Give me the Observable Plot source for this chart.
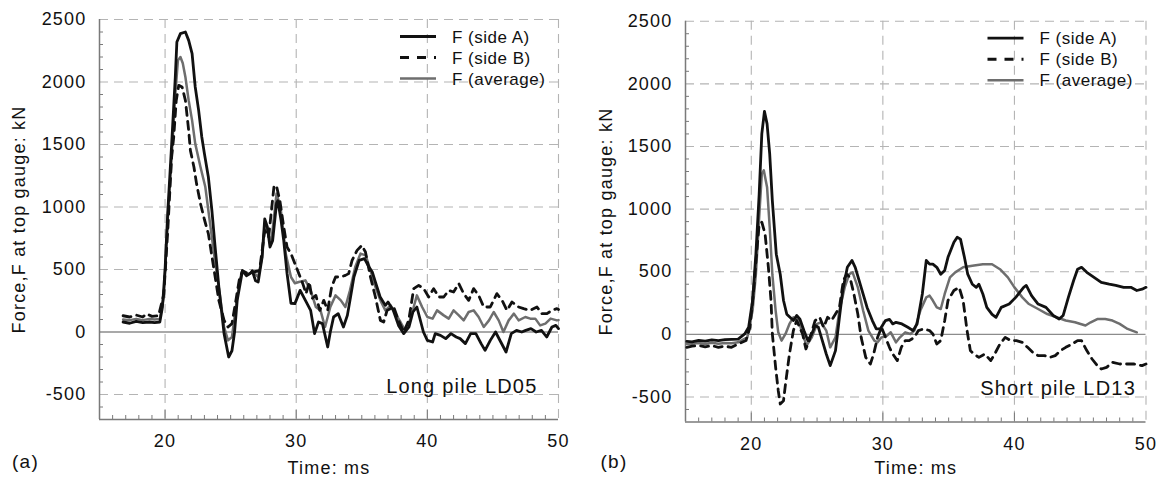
<!DOCTYPE html>
<html>
<head>
<meta charset="utf-8">
<script src="https://cdn.jsdelivr.net/npm/d3@7"></script>
<script src="https://cdn.jsdelivr.net/npm/@observablehq/plot@0.6"></script>
<style>
  body { margin: 0; background: #fff; }
  #wrap { position: relative; width: 1159px; height: 483px; overflow: hidden; }
  #left { position: absolute; left: 0; top: 0; }
  #right { position: absolute; left: 580px; top: 0; }
  #wrap text { letter-spacing: 1.2px; }
</style>
</head>
<body>
<div id="wrap"><div id="left"></div><div id="right"></div></div>
<script>
// ---------- axis / tick data ----------
const xDomain = [15, 50];
const yDomain = [-700, 2500];
const xMajor = [20, 30, 40, 50];
const xMinor = d3.range(16, 50, 1).filter(v => v % 10 !== 0);
const yGrid = [-500, 500, 1000, 1500, 2000, 2500];
const yLabels = [-500, 0, 500, 1000, 1500, 2000, 2500];
const yMinor = d3.range(-600, 2500, 100).filter(v => v % 500 !== 0);
const legendLabels = ["F (side A)", "F (side B)", "F (average)"];
const xTitle = "Time: ms";
const yTitle = "Force,F at top gauge: kN";

// ---------- (a) Long pile LD05 ----------
const leftA_t = [16.8,17.3,17.8,18.3,18.8,19.2,19.6,19.8,20.0,20.2,20.5,20.78,20.9,21.17,21.55,21.8,22.06,22.3,22.56,22.8,23.0,23.3,23.57,23.8,24.1,24.5,24.85,25.1,25.3,25.5,25.9,26.2,26.5,26.65,26.9,27.1,27.4,27.6,27.8,28.0,28.2,28.5,28.6,28.85,29.05,29.3,29.6,29.9,30.3,30.7,31.1,31.4,31.7,32.0,32.4,32.6,32.85,33.2,33.6,33.9,34.1,34.4,34.8,35.2,35.55,35.8,36.0,36.4,36.8,37.0,37.4,37.8,38.2,38.6,38.9,39.2,39.4,39.7,40.0,40.4,40.6,41.0,41.4,41.8,42.2,42.5,42.9,43.3,43.7,44.1,44.4,44.8,45.2,45.6,46.0,46.4,46.8,47.2,47.5,47.9,48.3,48.7,49.1,49.5,49.8,50.0];
const leftA_F = [80,70,85,75,80,75,80,200,500,950,1500,2040,2320,2387,2400,2333,2227,1960,1773,1560,1427,1240,973,700,360,-13,-200,-150,0,253,490,450,470,490,410,400,600,905,840,680,730,1030,1050,890,730,470,230,227,333,253,173,-13,80,67,-120,0,120,147,40,133,253,440,573,587,520,480,413,280,213,240,173,53,-13,40,160,200,120,0,-67,-80,-13,-27,-53,-13,-40,-53,-93,-13,-13,-93,-147,-67,0,-80,-160,-13,13,0,13,27,0,13,-40,40,53,27];

const leftB_t = [16.8,17.3,17.8,18.3,18.6,19.0,19.5,19.9,20.2,20.5,20.66,20.85,21.04,21.3,21.55,21.8,21.93,22.2,22.4,22.7,23.0,23.3,23.7,24.1,24.5,24.8,25.1,25.4,25.65,25.9,26.3,26.7,27.2,27.6,27.9,28.3,28.48,28.75,29.05,29.3,29.6,29.9,30.2,30.5,30.75,31.0,31.2,31.5,31.8,32.1,32.4,32.7,33.0,33.4,33.75,34.0,34.26,34.64,35.0,35.28,35.66,36.04,36.42,36.67,36.93,37.44,37.8,38.2,38.58,38.96,39.34,39.72,40.1,40.48,40.87,41.25,41.63,42.0,42.4,42.77,43.15,43.53,43.91,44.3,44.8,45.3,45.7,46.07,46.45,46.96,47.34,47.85,48.36,48.74,49.12,49.5,49.88,50.0];
const leftB_F = [130,120,135,120,145,125,130,300,800,1400,1560,1850,1973,1960,1853,1613,1453,1320,1187,1027,900,787,520,253,93,40,67,253,413,490,470,480,490,813,760,1160,1175,1053,840,680,627,547,467,387,307,400,267,293,173,253,173,360,440,440,453,467,573,653,693,640,440,280,93,80,173,200,93,0,93,347,373,347,280,347,280,280,333,320,387,307,253,347,293,200,200,307,253,173,240,200,187,173,200,147,147,173,187,180];

const leftM_t = [16.8,17.3,17.8,18.3,18.8,19.2,19.6,19.9,20.2,20.5,20.78,20.98,21.17,21.35,21.55,21.8,22.06,22.3,22.7,23.07,23.3,23.8,24.2,24.5,24.8,25.1,25.4,25.7,25.9,26.3,26.7,27.1,27.4,27.6,27.85,28.1,28.5,28.8,29.2,29.6,29.9,30.2,30.7,31.1,31.5,31.85,32.2,32.6,33.0,33.4,33.75,34.1,34.5,34.9,35.3,35.66,36.04,36.42,36.8,37.2,37.56,37.95,38.3,38.6,38.96,39.2,39.6,40.0,40.4,40.74,41.25,41.63,42.0,42.4,42.77,43.15,43.53,43.91,44.3,44.7,45.06,45.44,45.8,46.2,46.6,46.96,47.47,47.85,48.23,48.6,49.0,49.4,49.88,50.0];
const leftM_F = [100,95,105,95,105,100,105,280,900,1400,1900,2173,2200,2150,2040,1853,1693,1507,1320,1160,973,573,280,40,-67,-40,200,420,490,460,480,440,600,867,787,720,1107,1000,627,440,390,400,413,333,200,173,40,200,293,253,200,333,520,627,613,493,360,253,173,213,147,80,13,67,200,293,200,120,107,173,133,107,173,133,93,160,173,120,40,93,160,93,0,93,147,93,120,107,107,53,67,107,93,95];

// ---------- (b) Short pile LD13 ----------
const rightA_t = [15.1,15.5,16.0,16.5,17.0,17.5,18.0,18.5,19.0,19.5,19.8,20.1,20.35,20.6,20.8,21.0,21.2,21.4,21.6,21.9,22.2,22.45,22.7,23.2,23.45,23.7,24.0,24.3,24.6,24.85,25.1,25.4,25.7,26.0,26.4,26.7,26.95,27.3,27.65,27.9,28.35,28.8,29.2,29.5,29.8,30.2,30.5,30.75,31.0,31.45,31.9,32.3,32.6,33.0,33.3,33.55,33.8,34.1,34.4,34.7,34.95,35.4,35.65,35.9,36.2,36.45,36.8,37.1,37.3,37.6,37.9,38.3,38.6,39.0,39.6,40.1,40.7,40.9,41.3,41.8,42.4,42.95,43.4,43.7,44.1,44.5,44.8,45.1,45.5,46.05,46.6,47.2,47.7,48.3,48.85,49.3,49.7,50.0];
const rightA_F = [-56,-60,-48,-55,-45,-50,-42,-40,-38,3,56,270,640,1120,1600,1780,1680,1440,1067,640,480,270,160,110,150,120,30,-50,3,70,56,-50,-157,-250,-130,136,350,535,590,535,375,215,110,43,43,110,120,83,96,83,56,30,83,322,590,560,560,535,480,510,615,735,775,760,615,480,400,375,400,322,215,160,136,215,242,295,375,390,309,242,215,150,122,150,295,430,520,535,495,455,415,400,390,375,375,350,360,375];

const rightB_t = [15.1,15.5,16.0,16.5,17.0,17.5,18.0,18.5,19.0,19.6,19.9,20.2,20.4,20.6,20.8,21.05,21.3,21.5,21.6,21.85,22.05,22.2,22.45,22.6,22.9,23.2,23.45,23.9,24.15,24.4,24.85,25.2,25.5,25.8,26.1,26.4,26.7,27.0,27.25,27.5,27.8,28.1,28.35,28.7,29.05,29.3,29.6,29.9,30.2,30.5,30.75,31.1,31.4,31.7,32.0,32.4,32.7,33.1,33.55,33.8,34.1,34.4,34.7,34.95,35.4,35.8,36.1,36.4,36.65,36.9,37.3,37.75,38.2,38.5,38.9,39.3,39.7,40.15,40.6,41.0,41.4,41.8,42.3,42.7,43.1,43.5,43.9,44.4,44.8,45.1,45.5,45.9,46.3,46.6,47.0,47.45,48.0,48.6,49.1,49.7,50.0];
const rightB_F = [-104,-95,-90,-100,-90,-104,-95,-104,-77,-50,56,375,640,880,895,800,535,270,3,-264,-450,-556,-530,-397,-157,30,110,3,-117,-50,110,136,56,136,110,162,215,430,480,455,322,160,-24,-184,-237,-157,-24,56,-24,-104,-157,-210,-104,-50,-50,-24,30,43,30,3,-77,-50,110,270,350,375,270,30,-130,-157,-184,-157,-210,-157,-77,-24,-50,-50,-64,-104,-144,-170,-170,-184,-170,-130,-104,-77,-50,-50,-130,-197,-250,-277,-264,-224,-237,-237,-237,-250,-237];

const rightM_t = [15.1,15.5,16.0,16.5,17.0,17.5,18.0,18.5,19.0,19.7,20.1,20.35,20.6,20.8,20.95,21.2,21.4,21.6,21.85,22.05,22.3,22.6,22.9,23.2,23.6,23.9,24.2,24.6,25.0,25.3,25.7,26.0,26.4,26.7,27.1,27.45,27.7,28.1,28.5,28.9,29.35,29.6,29.9,30.3,30.6,31.0,31.3,31.7,32.1,32.4,32.85,33.3,33.55,33.8,34.1,34.4,34.7,35.1,35.5,36.1,36.8,37.6,38.3,38.9,39.5,40.0,40.6,41.1,41.8,42.5,43.2,43.9,44.6,45.4,45.8,46.3,46.9,47.45,48.0,48.6,49.3];
const rightM_F = [-77,-75,-70,-78,-68,-75,-70,-72,-64,-24,190,480,935,1280,1310,1175,855,480,190,16,-50,3,83,136,110,3,-90,-24,83,96,30,-104,-24,190,375,480,495,375,190,30,-50,-64,-24,-11,16,-64,-24,16,3,30,190,295,309,270,215,202,322,455,495,535,548,560,560,520,455,375,295,242,202,162,136,110,96,70,96,122,122,110,83,43,16];

const rows = (ts, fs) => ts.map((t, i) => ({t, F: fs[i]}));

const FONT = "'Liberation Sans', Arial, Helvetica, sans-serif";
const INK = "#111";
const AXIS = "#7a7a7a";
const GRID = "#b4b4b4";
const DASH = "9,6";

function legendMark(index, scales, values, dims) {
  const g = d3.create("svg:g");
  const R = dims.width - dims.marginRight;
  const T = dims.marginTop;
  const styles = [
    {stroke: "#111", dash: null, w: 2.8},
    {stroke: "#111", dash: "9,8", w: 3},
    {stroke: "#6e6e6e", dash: null, w: 2.5}
  ];
  legendLabels.forEach((lab, i) => {
    const y = T + 17.5 + i * 21;
    g.append("line")
      .attr("x1", R - 158).attr("x2", R - 122)
      .attr("y1", y).attr("y2", y)
      .attr("stroke", styles[i].stroke)
      .attr("stroke-width", styles[i].w)
      .attr("stroke-dasharray", styles[i].dash);
    g.append("text")
      .attr("x", R - 106).attr("y", y).attr("dy", "0.36em")
      .attr("text-anchor", "start")
      .attr("font-size", 17)
      .attr("fill", INK)
      .style("letter-spacing", "0.5px")
      .text(lab);
  });
  return g.node();
}

function panel(opts) {
  const {A, B, M, note, noteDx, tag, tagDx, tagDy, titleDy, dims, yTitleDx} = opts;
  return Plot.plot({
    width: dims.width,
    height: 483,
    marginLeft: dims.ml,
    marginRight: dims.mr,
    marginTop: dims.mt,
    marginBottom: dims.mb,
    style: {fontFamily: FONT, fontSize: "18px", color: INK, background: "white", overflow: "visible"},
    x: {domain: xDomain},
    y: {domain: yDomain},
    marks: [
      Plot.gridX(xMajor, {stroke: GRID, strokeOpacity: 1, strokeWidth: 1.1, strokeDasharray: DASH}),
      Plot.gridY(yGrid, {stroke: GRID, strokeOpacity: 1, strokeWidth: 1.1, strokeDasharray: DASH}),
      Plot.ruleY([0], {stroke: "#8c8c8c", strokeWidth: 1.3}),
      Plot.ruleX([xDomain[0]], {stroke: AXIS, strokeWidth: 1.5}),
      Plot.ruleY([yDomain[0]], {stroke: AXIS, strokeWidth: 1.5}),
      Plot.axisY(yMinor, {tickSize: -4, tickFormat: () => "", stroke: AXIS, label: null}),
      Plot.axisY(yLabels, {tickSize: 0, tickPadding: 13, tickFormat: d => `${d}`, fontSize: 18, fill: INK, label: null}),
      Plot.axisX(xMinor, {tickSize: -4, tickFormat: () => "", stroke: AXIS, label: null}),
      Plot.axisX(xMajor.slice(0, 3), {tickSize: -9, tickFormat: () => "", stroke: AXIS, label: null}),
      Plot.axisX(xMajor, {tickSize: 0, tickPadding: 15, tickFormat: d => `${d}`, fontSize: 18, fill: INK, label: null}),
      Plot.line(M, {x: "t", y: "F", stroke: "#6e6e6e", strokeWidth: 2.5}),
      Plot.line(B, {x: "t", y: "F", stroke: "#111", strokeWidth: 2.8, strokeDasharray: "8,6"}),
      Plot.line(A, {x: "t", y: "F", stroke: "#111", strokeWidth: 2.8}),
      legendMark,
      Plot.text([note], {frameAnchor: "bottom-right", dx: noteDx, dy: -27, textAnchor: "end", fontSize: 20, fill: INK}),
      Plot.text([xTitle], {frameAnchor: "bottom", dy: titleDy, textAnchor: "middle", fontSize: 18, fill: INK}),
      Plot.text([yTitle], {frameAnchor: "left", dx: yTitleDx, rotate: -90, textAnchor: "middle", fontSize: 18, fill: INK}),
      Plot.text([tag], {frameAnchor: "bottom-left", dx: tagDx, dy: tagDy, textAnchor: "middle", fontSize: 19, fill: INK})
    ]
  });
}

document.getElementById("left").appendChild(panel({
  A: rows(leftA_t, leftA_F), B: rows(leftB_t, leftB_F), M: rows(leftM_t, leftM_F),
  note: "Long pile LD05", noteDx: -21, tag: "(a)", tagDx: -74, tagDy: 48, titleDy: 54, yTitleDx: -80,
  dims: {width: 580, ml: 99, mr: 22, mt: 19, mb: 64}
}));
document.getElementById("right").appendChild(panel({
  A: rows(rightA_t, rightA_F), B: rows(rightB_t, rightB_F), M: rows(rightM_t, rightM_F),
  note: "Short pile LD13", noteDx: -10, tag: "(b)", tagDx: -71.5, tagDy: 45.5, titleDy: 51.5, yTitleDx: -79,
  dims: {width: 579, ml: 105, mr: 13.5, mt: 20.7, mb: 61.5}
}));
</script>
</body>
</html>
